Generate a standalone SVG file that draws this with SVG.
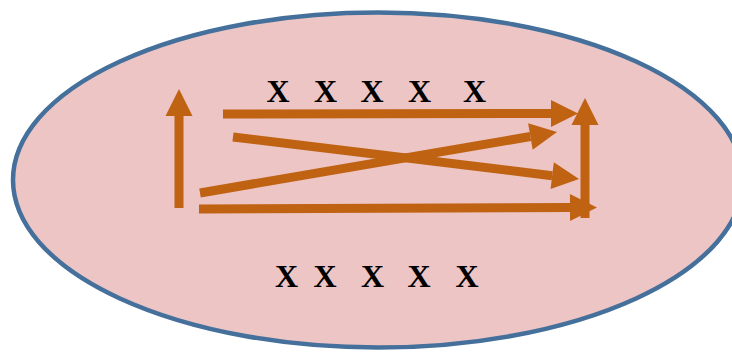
<svg xmlns="http://www.w3.org/2000/svg" width="732" height="352" viewBox="0 0 732 352">
  <style>
    .region { fill: #ECC5C4; stroke: #45709B; stroke-width: 4.5; }
    .flow { stroke: #BF6212; stroke-width: 9; fill: none; marker-end: url(#head); }
    .mark { font-family: "Liberation Serif", "Times New Roman", serif; font-weight: bold; font-size: 32px; fill: #000; text-anchor: middle; }
  </style>
  <defs>
    <marker id="head" viewBox="0 -1.5 3 3" refX="0" refY="0" markerWidth="3" markerHeight="3" markerUnits="strokeWidth" orient="auto" overflow="visible">
      <path d="M0,-1.5 L3,0 L0,1.5 z" fill="#BF6212"/>
    </marker>
  </defs>

  <g id="region">
    <ellipse class="region" cx="378" cy="180" rx="365" ry="167.5"/>
  </g>

  <g id="top-row">
    <text class="mark" x="278" y="102">X</text>
    <text class="mark" x="325.5" y="102">X</text>
    <text class="mark" x="372" y="102">X</text>
    <text class="mark" x="419.5" y="102">X</text>
    <text class="mark" x="474.5" y="102">X</text>
  </g>

  <g id="bottom-row">
    <text class="mark" x="286.5" y="287">X</text>
    <text class="mark" x="325" y="287">X</text>
    <text class="mark" x="372.5" y="287">X</text>
    <text class="mark" x="419" y="287">X</text>
    <text class="mark" x="467" y="287">X</text>
  </g>

  <g id="connectors">
    <line class="flow" x1="179" y1="208" x2="179" y2="116"/>
    <line class="flow" x1="223" y1="114" x2="551" y2="113.5"/>
    <line class="flow" x1="233" y1="137" x2="552.2" y2="175.7"/>
    <line class="flow" x1="200" y1="193" x2="530.4" y2="136.5"/>
    <line class="flow" x1="199" y1="209" x2="570" y2="207.5"/>
    <line class="flow" x1="585" y1="218" x2="585" y2="125"/>
  </g>
</svg>
